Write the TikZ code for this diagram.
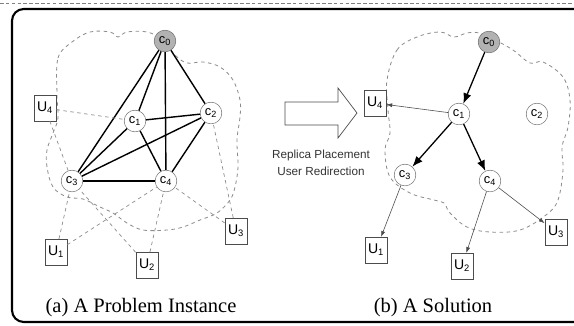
\documentclass[tikz,border=0pt]{standalone}
\usepackage{fontspec}
\setmainfont{Liberation Serif}
\setsansfont{Liberation Sans}
\usetikzlibrary{arrows.meta}

\begin{document}
\begin{tikzpicture}[
    x=0.03cm, y=-0.03cm,
    server/.style={circle, draw=black!60, fill=white, minimum size=18.5pt, inner sep=0pt, font=\sffamily\fontsize{11}{11}\selectfont},
    origin/.style={server, fill=black!30},
    user/.style={draw=black!70, fill=white, minimum width=19pt, minimum height=22pt, inner sep=0pt, font=\sffamily\fontsize{12}{12}\selectfont},
    link/.style={line width=1.2pt},
    access/.style={dashed, black!45, line width=0.6pt},
    cover/.style={dashed, black!45, line width=0.7pt},
    place/.style={line width=1.1pt, -{Latex[length=9pt,width=7pt]}},
    redirect/.style={black!70, line width=0.5pt, -{Latex[length=5pt,width=3.5pt]}},
    caption/.style={font=\fontsize{17.5}{19}\selectfont}
  ]
    \clip (0,0) rectangle (574,325);
    \draw[densely dashed, black!50, line width=0.4pt] (0,3) -- (574,3);
    \draw[line width=1.8pt, rounded corners=10pt] (12,9) rectangle (600,322);

    % coverage areas
    \draw[cover] plot[smooth cycle, tension=0.6] coordinates {(57,95) (58,58) (72,42) (90,32) (110,32) (118,37) (127,32) (147,32) (163,40) (175,55) (187,63) (203,62) (220,67) (233,80) (240,100) (240,117) (237,140) (238,167) (235,187) (230,200) (217,213) (200,220) (183,227) (167,230) (143,230) (127,223) (113,213) (100,207) (83,199) (67,197) (53,187) (47,167) (47,150) (53,133) (58,118)};
    \draw[cover] plot[smooth cycle, tension=0.6] coordinates {(387,80) (397,50) (417,37) (440,32) (454,37) (467,33) (479,33) (495,40) (513,50) (530,63) (543,62) (563,77) (570,100) (568,127) (562,147) (563,170) (558,200) (546,215) (520,230) (490,232) (467,227) (450,213) (444,203) (434,200) (410,193) (390,177) (385,150) (390,133) (388,110)};

    % (a) problem instance
    \node (lc0) [origin] at (165,41) {c\textsubscript{0}};
    \node (lc1) [server] at (135,121) {c\textsubscript{1}};
    \node (lc2) [server] at (211,113) {c\textsubscript{2}};
    \node (lc3) [server] at (72,181) {c\textsubscript{3}};
    \node (lc4) [server] at (166,181) {c\textsubscript{4}};
    \node (lu4) [user] at (45,108) {U\textsubscript{4}};
    \node (lu1) [user] at (56,252) {U\textsubscript{1}};
    \node (lu2) [user] at (147,265) {U\textsubscript{2}};
    \node (lu3) [user] at (236,231) {U\textsubscript{3}};

    \foreach \a/\b in {lc0/lc1, lc0/lc2, lc0/lc3, lc0/lc4, lc1/lc2, lc1/lc3, lc1/lc4, lc2/lc3, lc2/lc4, lc3/lc4}
      \draw[link] (\a) -- (\b);
    \foreach \a/\b in {lu4/lc1, lu4/lc3, lu1/lc3, lu1/lc4, lu2/lc3, lu2/lc4, lu3/lc4, lu3/lc2}
      \draw[access] (\a) -- (\b);

    % transformation
    \draw[black!70, line width=0.6pt, fill=white] (285,102) -- (338,102) -- (338,88) -- (357,113) -- (338,138) -- (338,125) -- (285,125) -- cycle;
    \node (method) [font=\sffamily\fontsize{10}{14.5}\selectfont, align=center, text=black!80] at (321,163) {Replica Placement\\User Redirection};

    % (b) solution
    \node (rc0) [origin] at (489,42) {c\textsubscript{0}};
    \node (rc1) [server] at (459,114) {c\textsubscript{1}};
    \node (rc2) [server] at (537,114) {c\textsubscript{2}};
    \node (rc3) [server] at (405,175) {c\textsubscript{3}};
    \node (rc4) [server] at (490,181) {c\textsubscript{4}};
    \node (ru4) [user] at (375,103) {U\textsubscript{4}};
    \node (ru1) [user] at (376,250) {U\textsubscript{1}};
    \node (ru2) [user] at (462,266) {U\textsubscript{2}};
    \node (ru3) [user] at (556,232) {U\textsubscript{3}};

    \draw[place] (rc0) -- (rc1);
    \draw[place] (rc1) -- (rc3);
    \draw[place] (rc1) -- (rc4);
    \draw[redirect] (rc1) -- (ru4);
    \draw[redirect] (rc3) -- (ru1);
    \draw[redirect] (rc4) -- (ru2);
    \draw[redirect] (rc4) -- (ru3);

    \node (capa) [caption] at (141,308) {(a) A Problem Instance};
    \node (capb) [caption] at (433,308) {(b) A Solution};
  \end{tikzpicture}
\end{document}
